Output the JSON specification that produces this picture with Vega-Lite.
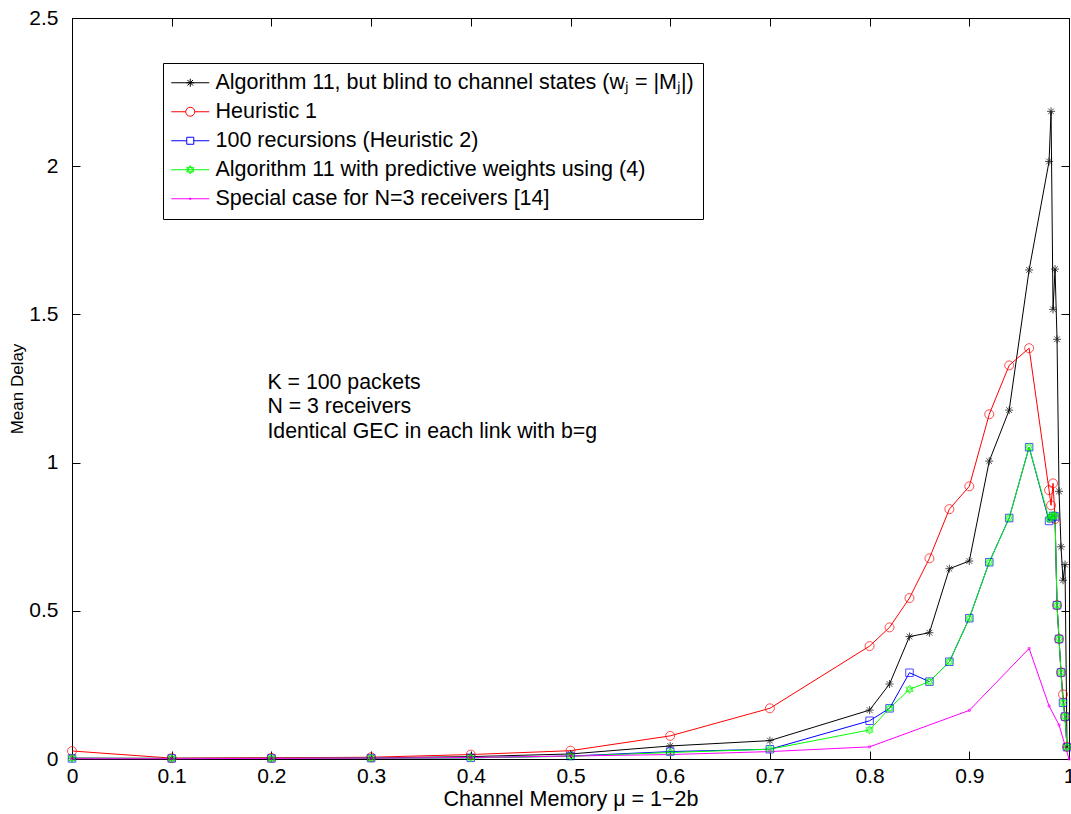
{
  "$schema": "https://vega.github.io/schema/vega-lite/v6.json",
  "width": 997,
  "height": 741,
  "autosize": {"type": "none"},
  "padding": {"left": 72, "top": 18, "right": 2, "bottom": 55},
  "background": "white",
  "config": {
    "font": "Liberation Sans",
    "view": {"stroke": "black", "strokeWidth": 1},
    "axis": {
      "grid": false,
      "domainColor": "black",
      "tickColor": "black",
      "labelColor": "black",
      "titleColor": "black",
      "labelFont": "Liberation Sans",
      "titleFont": "Liberation Sans",
      "labelFontSize": 21,
      "titleFontSize": 21.5,
      "titleFontWeight": "normal",
      "tickSize": -8,
      "labelFlush": false,
      "labelOverlap": false
    }
  },
  "datasets": {
    "series": [
      {"series": "Algorithm 11, but blind to channel states (wⱼ = |Mⱼ|)", "mu": 0, "delay": 0.003},
      {"series": "Algorithm 11, but blind to channel states (wⱼ = |Mⱼ|)", "mu": 0.1, "delay": 0.002},
      {"series": "Algorithm 11, but blind to channel states (wⱼ = |Mⱼ|)", "mu": 0.2, "delay": 0.003},
      {"series": "Algorithm 11, but blind to channel states (wⱼ = |Mⱼ|)", "mu": 0.3, "delay": 0.004},
      {"series": "Algorithm 11, but blind to channel states (wⱼ = |Mⱼ|)", "mu": 0.4, "delay": 0.008},
      {"series": "Algorithm 11, but blind to channel states (wⱼ = |Mⱼ|)", "mu": 0.5, "delay": 0.017},
      {"series": "Algorithm 11, but blind to channel states (wⱼ = |Mⱼ|)", "mu": 0.6, "delay": 0.044},
      {"series": "Algorithm 11, but blind to channel states (wⱼ = |Mⱼ|)", "mu": 0.7, "delay": 0.062},
      {"series": "Algorithm 11, but blind to channel states (wⱼ = |Mⱼ|)", "mu": 0.8, "delay": 0.165},
      {"series": "Algorithm 11, but blind to channel states (wⱼ = |Mⱼ|)", "mu": 0.82, "delay": 0.253},
      {"series": "Algorithm 11, but blind to channel states (wⱼ = |Mⱼ|)", "mu": 0.84, "delay": 0.413},
      {"series": "Algorithm 11, but blind to channel states (wⱼ = |Mⱼ|)", "mu": 0.86, "delay": 0.426},
      {"series": "Algorithm 11, but blind to channel states (wⱼ = |Mⱼ|)", "mu": 0.88, "delay": 0.642},
      {"series": "Algorithm 11, but blind to channel states (wⱼ = |Mⱼ|)", "mu": 0.9, "delay": 0.668},
      {"series": "Algorithm 11, but blind to channel states (wⱼ = |Mⱼ|)", "mu": 0.92, "delay": 1.005},
      {"series": "Algorithm 11, but blind to channel states (wⱼ = |Mⱼ|)", "mu": 0.94, "delay": 1.177},
      {"series": "Algorithm 11, but blind to channel states (wⱼ = |Mⱼ|)", "mu": 0.96, "delay": 1.65},
      {"series": "Algorithm 11, but blind to channel states (wⱼ = |Mⱼ|)", "mu": 0.98, "delay": 2.016},
      {"series": "Algorithm 11, but blind to channel states (wⱼ = |Mⱼ|)", "mu": 0.982, "delay": 2.185},
      {"series": "Algorithm 11, but blind to channel states (wⱼ = |Mⱼ|)", "mu": 0.984, "delay": 1.517},
      {"series": "Algorithm 11, but blind to channel states (wⱼ = |Mⱼ|)", "mu": 0.986, "delay": 1.653},
      {"series": "Algorithm 11, but blind to channel states (wⱼ = |Mⱼ|)", "mu": 0.988, "delay": 1.416},
      {"series": "Algorithm 11, but blind to channel states (wⱼ = |Mⱼ|)", "mu": 0.99, "delay": 0.903},
      {"series": "Algorithm 11, but blind to channel states (wⱼ = |Mⱼ|)", "mu": 0.992, "delay": 0.716},
      {"series": "Algorithm 11, but blind to channel states (wⱼ = |Mⱼ|)", "mu": 0.994, "delay": 0.603},
      {"series": "Algorithm 11, but blind to channel states (wⱼ = |Mⱼ|)", "mu": 0.996, "delay": 0.656},
      {"series": "Algorithm 11, but blind to channel states (wⱼ = |Mⱼ|)", "mu": 0.998, "delay": 0.04},
      {"series": "Heuristic 1", "mu": 0, "delay": 0.027},
      {"series": "Heuristic 1", "mu": 0.1, "delay": 0.003},
      {"series": "Heuristic 1", "mu": 0.2, "delay": 0.004},
      {"series": "Heuristic 1", "mu": 0.3, "delay": 0.006},
      {"series": "Heuristic 1", "mu": 0.4, "delay": 0.015},
      {"series": "Heuristic 1", "mu": 0.5, "delay": 0.028},
      {"series": "Heuristic 1", "mu": 0.6, "delay": 0.078},
      {"series": "Heuristic 1", "mu": 0.7, "delay": 0.171},
      {"series": "Heuristic 1", "mu": 0.8, "delay": 0.381},
      {"series": "Heuristic 1", "mu": 0.82, "delay": 0.444},
      {"series": "Heuristic 1", "mu": 0.84, "delay": 0.543},
      {"series": "Heuristic 1", "mu": 0.86, "delay": 0.677},
      {"series": "Heuristic 1", "mu": 0.88, "delay": 0.843},
      {"series": "Heuristic 1", "mu": 0.9, "delay": 0.92},
      {"series": "Heuristic 1", "mu": 0.92, "delay": 1.163},
      {"series": "Heuristic 1", "mu": 0.94, "delay": 1.328},
      {"series": "Heuristic 1", "mu": 0.96, "delay": 1.386},
      {"series": "Heuristic 1", "mu": 0.98, "delay": 0.907},
      {"series": "Heuristic 1", "mu": 0.982, "delay": 0.856},
      {"series": "Heuristic 1", "mu": 0.984, "delay": 0.93},
      {"series": "Heuristic 1", "mu": 0.986, "delay": 0.81},
      {"series": "Heuristic 1", "mu": 0.988, "delay": 0.519},
      {"series": "Heuristic 1", "mu": 0.99, "delay": 0.405},
      {"series": "Heuristic 1", "mu": 0.992, "delay": 0.292},
      {"series": "Heuristic 1", "mu": 0.994, "delay": 0.218},
      {"series": "Heuristic 1", "mu": 0.996, "delay": 0.143},
      {"series": "Heuristic 1", "mu": 0.998, "delay": 0.041},
      {"series": "100 recursions (Heuristic 2)", "mu": 0, "delay": 0.002},
      {"series": "100 recursions (Heuristic 2)", "mu": 0.1, "delay": 0.002},
      {"series": "100 recursions (Heuristic 2)", "mu": 0.2, "delay": 0.002},
      {"series": "100 recursions (Heuristic 2)", "mu": 0.3, "delay": 0.003},
      {"series": "100 recursions (Heuristic 2)", "mu": 0.4, "delay": 0.004},
      {"series": "100 recursions (Heuristic 2)", "mu": 0.5, "delay": 0.01},
      {"series": "100 recursions (Heuristic 2)", "mu": 0.6, "delay": 0.025},
      {"series": "100 recursions (Heuristic 2)", "mu": 0.7, "delay": 0.033},
      {"series": "100 recursions (Heuristic 2)", "mu": 0.8, "delay": 0.129},
      {"series": "100 recursions (Heuristic 2)", "mu": 0.82, "delay": 0.171},
      {"series": "100 recursions (Heuristic 2)", "mu": 0.84, "delay": 0.291},
      {"series": "100 recursions (Heuristic 2)", "mu": 0.86, "delay": 0.261},
      {"series": "100 recursions (Heuristic 2)", "mu": 0.88, "delay": 0.328},
      {"series": "100 recursions (Heuristic 2)", "mu": 0.9, "delay": 0.475},
      {"series": "100 recursions (Heuristic 2)", "mu": 0.92, "delay": 0.664},
      {"series": "100 recursions (Heuristic 2)", "mu": 0.94, "delay": 0.813},
      {"series": "100 recursions (Heuristic 2)", "mu": 0.96, "delay": 1.052},
      {"series": "100 recursions (Heuristic 2)", "mu": 0.98, "delay": 0.803},
      {"series": "100 recursions (Heuristic 2)", "mu": 0.982, "delay": 0.812},
      {"series": "100 recursions (Heuristic 2)", "mu": 0.984, "delay": 0.82},
      {"series": "100 recursions (Heuristic 2)", "mu": 0.986, "delay": 0.818},
      {"series": "100 recursions (Heuristic 2)", "mu": 0.988, "delay": 0.519},
      {"series": "100 recursions (Heuristic 2)", "mu": 0.99, "delay": 0.405},
      {"series": "100 recursions (Heuristic 2)", "mu": 0.992, "delay": 0.292},
      {"series": "100 recursions (Heuristic 2)", "mu": 0.994, "delay": 0.19},
      {"series": "100 recursions (Heuristic 2)", "mu": 0.996, "delay": 0.143},
      {"series": "100 recursions (Heuristic 2)", "mu": 0.998, "delay": 0.04},
      {"series": "Algorithm 11 with predictive weights using (4)", "mu": 0, "delay": 0.002},
      {"series": "Algorithm 11 with predictive weights using (4)", "mu": 0.1, "delay": 0.002},
      {"series": "Algorithm 11 with predictive weights using (4)", "mu": 0.2, "delay": 0.002},
      {"series": "Algorithm 11 with predictive weights using (4)", "mu": 0.3, "delay": 0.003},
      {"series": "Algorithm 11 with predictive weights using (4)", "mu": 0.4, "delay": 0.004},
      {"series": "Algorithm 11 with predictive weights using (4)", "mu": 0.5, "delay": 0.009},
      {"series": "Algorithm 11 with predictive weights using (4)", "mu": 0.6, "delay": 0.022},
      {"series": "Algorithm 11 with predictive weights using (4)", "mu": 0.7, "delay": 0.033},
      {"series": "Algorithm 11 with predictive weights using (4)", "mu": 0.8, "delay": 0.098},
      {"series": "Algorithm 11 with predictive weights using (4)", "mu": 0.82, "delay": 0.171},
      {"series": "Algorithm 11 with predictive weights using (4)", "mu": 0.84, "delay": 0.235},
      {"series": "Algorithm 11 with predictive weights using (4)", "mu": 0.86, "delay": 0.261},
      {"series": "Algorithm 11 with predictive weights using (4)", "mu": 0.88, "delay": 0.328},
      {"series": "Algorithm 11 with predictive weights using (4)", "mu": 0.9, "delay": 0.475},
      {"series": "Algorithm 11 with predictive weights using (4)", "mu": 0.92, "delay": 0.664},
      {"series": "Algorithm 11 with predictive weights using (4)", "mu": 0.94, "delay": 0.813},
      {"series": "Algorithm 11 with predictive weights using (4)", "mu": 0.96, "delay": 1.052},
      {"series": "Algorithm 11 with predictive weights using (4)", "mu": 0.98, "delay": 0.81},
      {"series": "Algorithm 11 with predictive weights using (4)", "mu": 0.982, "delay": 0.818},
      {"series": "Algorithm 11 with predictive weights using (4)", "mu": 0.984, "delay": 0.822},
      {"series": "Algorithm 11 with predictive weights using (4)", "mu": 0.986, "delay": 0.82},
      {"series": "Algorithm 11 with predictive weights using (4)", "mu": 0.988, "delay": 0.519},
      {"series": "Algorithm 11 with predictive weights using (4)", "mu": 0.99, "delay": 0.405},
      {"series": "Algorithm 11 with predictive weights using (4)", "mu": 0.992, "delay": 0.292},
      {"series": "Algorithm 11 with predictive weights using (4)", "mu": 0.994, "delay": 0.19},
      {"series": "Algorithm 11 with predictive weights using (4)", "mu": 0.996, "delay": 0.143},
      {"series": "Algorithm 11 with predictive weights using (4)", "mu": 0.998, "delay": 0.04},
      {"series": "Special case for N=3 receivers [14]", "mu": 0, "delay": 0.001},
      {"series": "Special case for N=3 receivers [14]", "mu": 0.1, "delay": 0.001},
      {"series": "Special case for N=3 receivers [14]", "mu": 0.2, "delay": 0.002},
      {"series": "Special case for N=3 receivers [14]", "mu": 0.3, "delay": 0.003},
      {"series": "Special case for N=3 receivers [14]", "mu": 0.4, "delay": 0.005},
      {"series": "Special case for N=3 receivers [14]", "mu": 0.5, "delay": 0.01},
      {"series": "Special case for N=3 receivers [14]", "mu": 0.6, "delay": 0.015},
      {"series": "Special case for N=3 receivers [14]", "mu": 0.7, "delay": 0.025},
      {"series": "Special case for N=3 receivers [14]", "mu": 0.8, "delay": 0.041},
      {"series": "Special case for N=3 receivers [14]", "mu": 0.9, "delay": 0.164},
      {"series": "Special case for N=3 receivers [14]", "mu": 0.96, "delay": 0.373},
      {"series": "Special case for N=3 receivers [14]", "mu": 0.98, "delay": 0.179},
      {"series": "Special case for N=3 receivers [14]", "mu": 0.99, "delay": 0.115},
      {"series": "Special case for N=3 receivers [14]", "mu": 1, "delay": 0}
    ],
    "notes": [
      {"mu": 0.196, "delay": 1.268, "label": "K = 100 packets"},
      {"mu": 0.196, "delay": 1.186, "label": "N = 3 receivers"},
      {"mu": 0.196, "delay": 1.104, "label": "Identical GEC in each link with b=g"}
    ]
  },
  "layer": [
    {
      "data": {"name": "series"},
      "mark": {"type": "line", "strokeWidth": 1},
      "encoding": {
        "x": {
          "field": "mu", "type": "quantitative",
          "scale": {"domain": [0, 1], "nice": false, "zero": false},
          "axis": {"orient": "bottom", "values": [0, 0.1, 0.2, 0.3, 0.4, 0.5, 0.6, 0.7, 0.8, 0.9, 1], "format": "~g", "title": "Channel Memory μ = 1−2b", "labelPadding": 14, "titlePadding": 2}
        },
        "y": {
          "field": "delay", "type": "quantitative",
          "scale": {"domain": [0, 2.5], "nice": false, "zero": false},
          "axis": {"orient": "left", "values": [0, 0.5, 1, 1.5, 2, 2.5], "format": "~g", "title": "Mean Delay", "titleFontSize": 17, "labelPadding": 22, "titlePadding": 2}
        },
        "color": {
          "field": "series", "type": "nominal",
          "scale": {
            "domain": ["Algorithm 11, but blind to channel states (wⱼ = |Mⱼ|)", "Heuristic 1", "100 recursions (Heuristic 2)", "Algorithm 11 with predictive weights using (4)", "Special case for N=3 receivers [14]"],
            "range": ["#000000", "#ff0000", "#0000ff", "#00ff00", "#ff00ff"]
          },
          "legend": {
            "orient": "none", "legendX": 91, "legendY": 45, "title": null,
            "symbolSize": 400, "symbolStrokeWidth": 1, "symbolType": "M-1.15,0H2.65",
            "labelFont": "Liberation Sans", "labelFontSize": 21.5, "labelColor": "black", "labelOffset": 22, "labelLimit": 800,
            "rowPadding": 6, "padding": 9, "strokeColor": "black", "fillColor": "white",
            "encode": {
              "symbols": {
                "update": {
                  "shape": {"signal": "['M-1.15,0H2.65M0.75,-0.4V0.4M0.35,0H1.15M0.47,-0.28L1.03,0.28M0.47,0.28L1.03,-0.28','M-1.15,0H0.3M1.2,0H2.65M0.3,0A0.45,0.45 0 1,0 1.2,0A0.45,0.45 0 1,0 0.3,0','M-1.15,0H0.4M1.1,0H2.65M0.4,-0.35H1.1V0.35H0.4Z','M-1.15,0H2.65M0.75,-0.42L1.11,0.21L0.39,0.21ZM0.75,0.42L1.11,-0.21L0.39,-0.21Z','M-1.15,0H2.65M0.7,-0.07H0.8V0.07H0.7Z'][datum.index]"},
                  "fill": {"value": "transparent"}
                }
              }
            }
          }
        }
      }
    },
    {
      "data": {"name": "series"},
      "transform": [{"filter": "datum.series === 'Algorithm 11, but blind to channel states (wⱼ = |Mⱼ|)'"}],
      "mark": {"type": "point", "filled": false, "strokeWidth": 1, "size": 100, "color": "#000000", "shape": "M-0.8,0H0.8M0,-0.8V0.8M-0.57,-0.57L0.57,0.57M-0.57,0.57L0.57,-0.57"},
      "encoding": {
        "x": {"field": "mu", "type": "quantitative", "axis": {"orient": "top", "values": [0, 0.1, 0.2, 0.3, 0.4, 0.5, 0.6, 0.7, 0.8, 0.9, 1], "labels": false, "title": null}},
        "y": {"field": "delay", "type": "quantitative", "axis": {"orient": "right", "values": [0, 0.5, 1, 1.5, 2, 2.5], "labels": false, "title": null}}
      }
    },
    {
      "data": {"name": "series"},
      "transform": [{"filter": "datum.series === 'Heuristic 1'"}],
      "mark": {"type": "point", "filled": false, "strokeWidth": 1, "size": 100, "color": "#ff0000", "shape": "M-0.9,0A0.9,0.9 0 1,0 0.9,0A0.9,0.9 0 1,0 -0.9,0"},
      "encoding": {
        "x": {"field": "mu", "type": "quantitative", "axis": null},
        "y": {"field": "delay", "type": "quantitative", "axis": null}
      }
    },
    {
      "data": {"name": "series"},
      "transform": [{"filter": "datum.series === '100 recursions (Heuristic 2)'"}],
      "mark": {"type": "point", "filled": false, "strokeWidth": 1, "size": 100, "color": "#0000ff", "shape": "M-0.75,-0.75H0.75V0.75H-0.75Z"},
      "encoding": {
        "x": {"field": "mu", "type": "quantitative", "axis": null},
        "y": {"field": "delay", "type": "quantitative", "axis": null}
      }
    },
    {
      "data": {"name": "series"},
      "transform": [{"filter": "datum.series === 'Algorithm 11 with predictive weights using (4)'"}],
      "mark": {"type": "point", "filled": false, "strokeWidth": 1, "size": 100, "color": "#00ff00", "shape": "M0,-0.85L0.736,0.425L-0.736,0.425ZM0,0.85L0.736,-0.425L-0.736,-0.425Z"},
      "encoding": {
        "x": {"field": "mu", "type": "quantitative", "axis": null},
        "y": {"field": "delay", "type": "quantitative", "axis": null}
      }
    },
    {
      "data": {"name": "series"},
      "transform": [{"filter": "datum.series === 'Special case for N=3 receivers [14]'"}],
      "mark": {"type": "point", "filled": false, "strokeWidth": 1, "size": 100, "color": "#ff00ff", "shape": "M-0.2,-0.2H0.2V0.2H-0.2Z"},
      "encoding": {
        "x": {"field": "mu", "type": "quantitative", "axis": null},
        "y": {"field": "delay", "type": "quantitative", "axis": null}
      }
    },
    {
      "data": {"name": "notes"},
      "mark": {"type": "text", "align": "left", "baseline": "middle", "fontSize": 21.3, "font": "Liberation Sans", "color": "black"},
      "encoding": {
        "x": {"field": "mu", "type": "quantitative", "axis": null},
        "y": {"field": "delay", "type": "quantitative", "axis": null},
        "text": {"field": "label", "type": "nominal"}
      }
    }
  ],
  "resolve": {"axis": {"x": "independent", "y": "independent"}}
}
